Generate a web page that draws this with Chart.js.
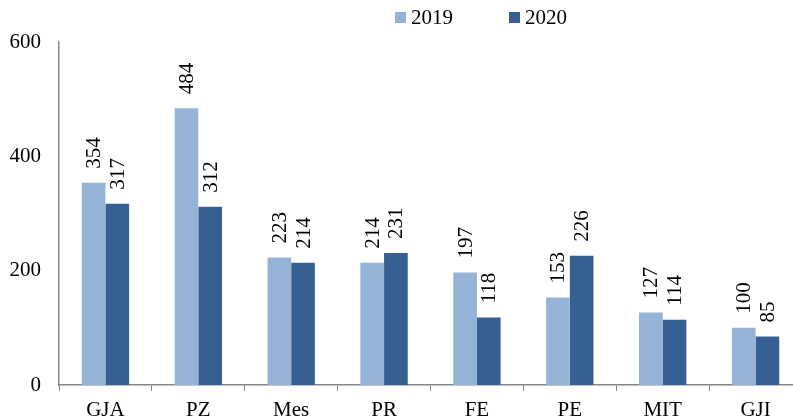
<!DOCTYPE html>
<html><head><meta charset="utf-8">
<script src="https://cdn.jsdelivr.net/npm/chart.js@4/dist/chart.umd.min.js"></script>
<style>html,body{margin:0;padding:0;overflow:hidden;background:#fff;}#wrap{width:802px;height:420px;}</style>
</head><body><div id="wrap"><canvas id="c" width="802" height="420"></canvas></div>
<script>
const categories = ["GJA","PZ","Mes","PR","FE","PE","MIT","GJI"];
const values2019 = [354,484,223,214,197,153,127,100];
const values2020 = [317,312,214,231,118,226,114,85];
const yTicks = [0,200,400,600];
const FONT = "'Liberation Serif','Times New Roman',serif";

const labelPlugin = {
  id:'barLabels',
  afterDatasetsDraw(chart){
    const ctx = chart.ctx;
    ctx.save();
    ctx.font = "21px " + FONT;
    ctx.fillStyle = "#000";
    ctx.textAlign = "left";
    ctx.textBaseline = "middle";
    chart.data.datasets.forEach((ds,i)=>{
      chart.getDatasetMeta(i).data.forEach((bar,j)=>{
        ctx.save();
        ctx.translate(bar.x, bar.y - 14);
        ctx.rotate(-Math.PI/2);
        ctx.fillText(String(ds.data[j]), 0, 1);
        ctx.restore();
      });
    });
    ctx.restore();
  }
};
// legend drawn from the datasets (labels + colours)
const customLegend = {
  id:'customLegend',
  afterDraw(chart){
    const ctx = chart.ctx;
    const starts = [395, 509];
    ctx.save();
    ctx.font = "21px " + FONT;
    ctx.textAlign = "left";
    ctx.textBaseline = "middle";
    chart.data.datasets.forEach((ds,i)=>{
      const x = starts[i];
      ctx.fillStyle = ds.backgroundColor;
      ctx.fillRect(x, 12, 11, 11);
      ctx.fillStyle = "#000";
      ctx.fillText(ds.label, x + 16, 18);
    });
    ctx.restore();
  }
};

new Chart(document.getElementById('c'), {
  type:'bar',
  data:{
    labels:categories,
    datasets:[
      {label:'2019', data:values2019, backgroundColor:'#95B3D7', borderWidth:0},
      {label:'2020', data:values2020, backgroundColor:'#366092', borderWidth:0}
    ]
  },
  options:{
    responsive:false,
    animation:false,
    layout:{padding:{top:42,left:0,right:0,bottom:0}},
    datasets:{bar:{categoryPercentage:0.51, barPercentage:1}},
    plugins:{
      legend:{display:false},
      tooltip:{enabled:false}
    },
    scales:{
      x:{
        grid:{display:true, drawOnChartArea:false, drawTicks:true, tickLength:6, color:'#868686', offset:true},
        border:{color:'#868686', width:1.5},
        ticks:{color:'#000', font:{family:FONT, size:21}, padding:7, maxRotation:0},
        afterFit(s){ s.height = 35; }
      },
      y:{
        min:0, max:600,
        afterBuildTicks(s){ s.ticks = yTicks.map(v=>({value:v})); },
        grid:{display:false},
        border:{color:'#868686', width:1.5},
        ticks:{color:'#000', font:{family:FONT, size:21}, padding:10},
        afterFit(s){ s.width = 59; }
      }
    }
  },
  plugins:[labelPlugin, customLegend]
});
</script></body></html>
